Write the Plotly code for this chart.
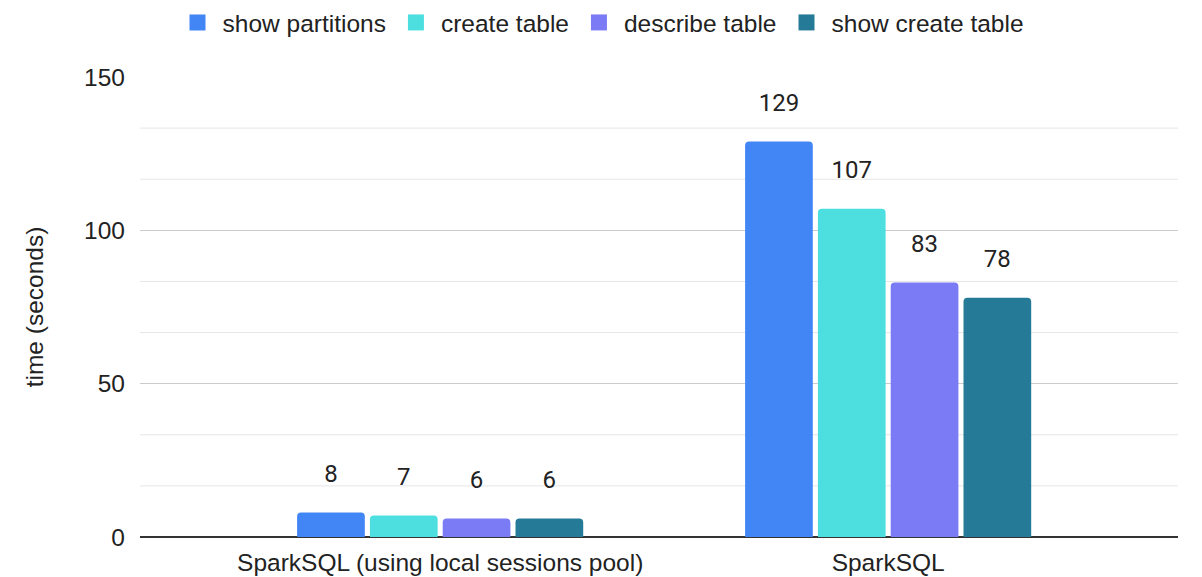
import plotly.graph_objects as go

categories = ["SparkSQL (using local sessions pool)", "SparkSQL"]
series_names = ["show partitions", "create table", "describe table", "show create table"]
series_values = {
    "show partitions": [8, 129],
    "create table": [7, 107],
    "describe table": [6, 83],
    "show create table": [6, 78],
}
colors = ["#4285F4", "#4DDFDF", "#7B7CF5", "#257B97"]
y_ticks = [0, 50, 100, 150]

FS = 24.5
GAP = 0.35
fig = go.Figure()
for name, col in zip(series_names, colors):
    vals = series_values[name]
    fig.add_trace(go.Bar(
        x=categories, y=vals, name=name, marker_color=col,
        marker_line_width=0, showlegend=False, offsetgroup=name,
    ))
    fig.add_trace(go.Scatter(
        x=categories, y=vals, mode="markers+text", offsetgroup=name,
        text=[str(v) for v in vals], textposition="top center",
        textfont=dict(family="Roboto", size=24, color="#222222"),
        marker=dict(size=38, opacity=0), showlegend=False, hoverinfo="skip",
        cliponaxis=False,
    ))
    fig.add_trace(go.Scatter(
        x=[None], y=[None], mode="markers", name=name, offsetgroup=name,
        marker=dict(symbol="square", size=26, color=col),
    ))

minor_vals = [v for v in [50/3*i for i in range(10)] if round(v) % 50 != 0]
for v in minor_vals:
    fig.add_hline(y=v, line=dict(color="#E6E6E6", width=1), layer="below")

fig.update_layout(
    width=1202, height=577,
    margin=dict(l=140, r=24, t=77, b=40),
    paper_bgcolor="white", plot_bgcolor="white",
    barmode="group", bargap=GAP, bargroupgap=0.07,
    scattermode="group", scattergap=GAP,
    barcornerradius=4,
    font=dict(family="Liberation Sans, Arial", size=FS, color="#222222"),
    legend=dict(orientation="h", x=0.5, xref="container", xanchor="center",
                y=1.0, yref="container", yanchor="top",
                font=dict(size=FS, color="#222222"),
                itemwidth=40, tracegroupgap=0, traceorder="normal"),
    xaxis=dict(range=[-0.67, 1.647], showgrid=False, showline=False, ticks="",
               automargin=False,
               tickfont=dict(size=FS, color="#222222"), ticklabelstandoff=8),
    yaxis=dict(range=[0, 150], tickvals=y_ticks, showgrid=True, gridcolor="#CCCCCC",
               gridwidth=1, zeroline=True, zerolinecolor="#333333", zerolinewidth=1.5,
               showline=False, ticks="", tickfont=dict(size=FS, color="#222222"),
               ticklabelstandoff=14, automargin=False,
               title=dict(text="time (seconds)", font=dict(size=FS, color="#222222"),
                          standoff=33)),
)
fig.write_html("out.html")
